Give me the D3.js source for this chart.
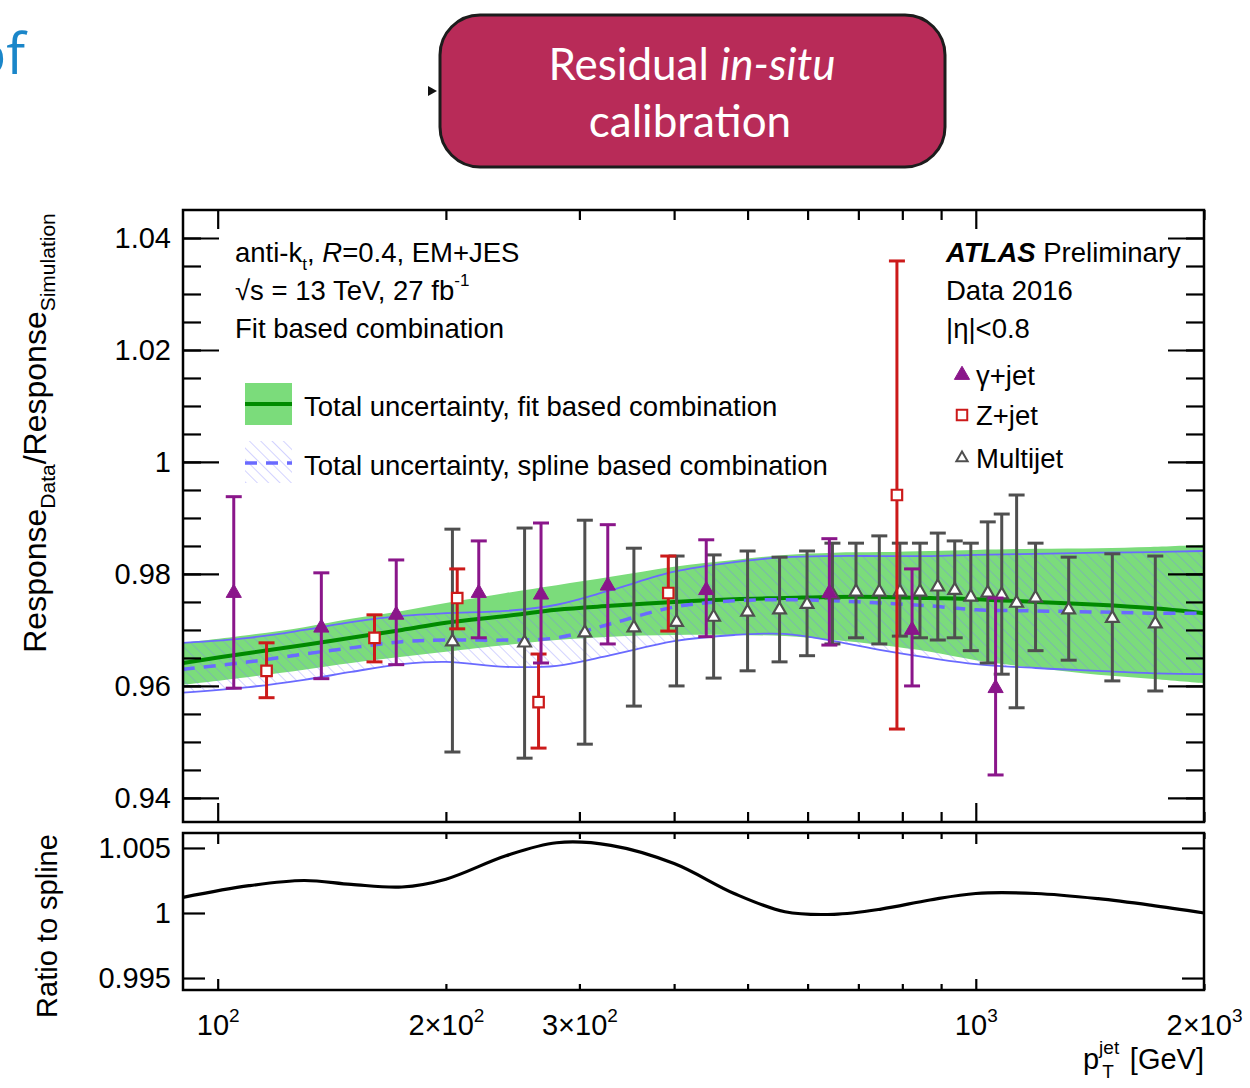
<!DOCTYPE html>
<html>
<head>
    <meta charset="utf-8">
    <title>Residual in-situ calibration</title>
    <script src="https://d3js.org/d3.v7.min.js"></script>
    <style>
        body { margin: 0; background: #fff; }
    </style>
</head>
<body>
<script>
    // smooth curves, sampled at these pT values (GeV)
    const curvePt = [90, 110, 130, 150, 175, 200, 240, 280, 330, 400, 480, 560, 650, 750, 870, 1000, 1200, 1450, 1700, 2000];
    const fitCentral = [0.9641, 0.9659, 0.9673, 0.9686, 0.9700, 0.9713, 0.9725, 0.9736, 0.9743, 0.9750, 0.9755, 0.9757, 0.9759, 0.9759, 0.9757, 0.9755, 0.9750, 0.9745, 0.9739, 0.9730];
    const fitUp = [0.9677, 0.9691, 0.9705, 0.9720, 0.9734, 0.9748, 0.9766, 0.9780, 0.9795, 0.9813, 0.9825, 0.9834, 0.9838, 0.9839, 0.9841, 0.9843, 0.9845, 0.9846, 0.9848, 0.9852];
    const fitDown = [0.9602, 0.9616, 0.9629, 0.9641, 0.9652, 0.9661, 0.9673, 0.9682, 0.9688, 0.9691, 0.9691, 0.9689, 0.9682, 0.9673, 0.9661, 0.9646, 0.9632, 0.9620, 0.9613, 0.9605];
    const splineCentral = [0.9630, 0.9643, 0.9657, 0.9668, 0.9679, 0.9682, 0.9682, 0.9686, 0.9711, 0.9741, 0.9752, 0.9754, 0.9752, 0.9748, 0.9743, 0.9736, 0.9734, 0.9732, 0.9730, 0.9730];
    const splineUp = [0.9677, 0.9686, 0.9700, 0.9714, 0.9725, 0.9730, 0.9734, 0.9745, 0.9771, 0.9804, 0.9821, 0.9830, 0.9832, 0.9832, 0.9832, 0.9834, 0.9836, 0.9838, 0.9839, 0.9841];
    const splineDown = [0.9588, 0.9598, 0.9611, 0.9625, 0.9639, 0.9643, 0.9634, 0.9636, 0.9655, 0.9680, 0.9691, 0.9693, 0.9680, 0.9664, 0.9650, 0.9639, 0.9632, 0.9627, 0.9623, 0.9621];
    const ratioToSpline = [1.0012, 1.0021, 1.0025, 1.0022, 1.0020, 1.0026, 1.0044, 1.0054, 1.0052, 1.0038, 1.0015, 1.0001, 0.9999, 1.0003, 1.0010, 1.0015, 1.0015, 1.0011, 1.0006, 1.0000];

    // gamma+jet
    const gammaPt = [105, 137, 172, 221, 267, 327, 441, 641, 824, 1062];
    const gammaResp = [0.9766, 0.9704, 0.9727, 0.9766, 0.9763, 0.9779, 0.9771, 0.9766, 0.9700, 0.9596];
    const gammaHi = [0.9938, 0.9802, 0.9825, 0.9859, 0.9891, 0.9888, 0.9861, 0.9863, 0.9809, 0.9757];
    const gammaLo = [0.9596, 0.9613, 0.9638, 0.9686, 0.9641, 0.9675, 0.9688, 0.9673, 0.9600, 0.9441];

    // Z+jet
    const zPt = [116, 161, 207, 265, 393, 787];
    const zResp = [0.9627, 0.9686, 0.9757, 0.9571, 0.9766, 0.9941];
    const zHi = [0.9677, 0.9727, 0.9809, 0.9657, 0.9832, 1.0359];
    const zLo = [0.9579, 0.9643, 0.9702, 0.9489, 0.9698, 0.9523];

    // multijet
    const mjPt = [204, 254, 305, 354, 403, 451, 500, 551, 599, 647, 695, 746, 794, 844, 891, 938, 985, 1037, 1082, 1132, 1199, 1326, 1514, 1725];
    const mjResp = [0.9679, 0.9677, 0.9695, 0.9704, 0.9714, 0.9723, 0.9732, 0.9736, 0.9746, 0.9763, 0.9768, 0.9768, 0.9768, 0.9768, 0.9777, 0.9771, 0.9759, 0.9766, 0.9763, 0.9748, 0.9757, 0.9736, 0.9721, 0.9711];
    const mjHi = [0.9880, 0.9882, 0.9896, 0.9846, 0.9832, 0.9834, 0.9841, 0.9830, 0.9841, 0.9855, 0.9855, 0.9868, 0.9855, 0.9855, 0.9873, 0.9859, 0.9855, 0.9893, 0.9907, 0.9941, 0.9855, 0.9830, 0.9836, 0.9832];
    const mjLo = [0.9482, 0.9471, 0.9496, 0.9564, 0.9600, 0.9614, 0.9627, 0.9643, 0.9654, 0.9675, 0.9686, 0.9675, 0.9689, 0.9686, 0.9682, 0.9686, 0.9663, 0.9641, 0.9621, 0.9561, 0.9663, 0.9646, 0.9609, 0.9591];

    // ticks
    const yMajor = [0.94, 0.96, 0.98, 1, 1.02, 1.04];
    const yMajorLabels = ['0.94', '0.96', '0.98', '1', '1.02', '1.04'];
    const yMinor = d3.range(0.94, 1.045, 0.005);
    const rMajor = [0.995, 1, 1.005];
    const rMajorLabels = ['0.995', '1', '1.005'];
    const xMajor = [100, 1000];
    const xMinor = [200, 300, 400, 500, 600, 700, 800, 900, 2000];
    const xLabelVals = [100, 200, 300, 1000, 2000];
    const xLabelMant = ['10', '2\u00d710', '3\u00d710', '10', '2\u00d710'];
    const xLabelExp = ['2', '2', '2', '3', '3'];

    const msm = {
        width: 1250,
        height: 1088,
        left: 183,
        right: 1204,
        top: 210,
        bottom: 822,
        rTop: 833,
        rBottom: 990
    }

    const col = {
        green: '#7bdc7b',
        darkGreen: '#008a00',
        blue: '#6a6aff',
        purple: '#8a168a',
        red: '#cc1a1a',
        gray: '#4f4f4f'
    }

    let svg = d3.select('body')
        .append('svg')
        .attr('width', msm.width)
        .attr('height', msm.height)
        .attr('font-family', '"Liberation Sans", Arial, sans-serif')

    let defs = svg.append('defs');
    defs.append('pattern')
        .attr('id', 'hatch')
        .attr('patternUnits', 'userSpaceOnUse')
        .attr('width', 8)
        .attr('height', 8)
        .attr('patternTransform', 'rotate(-45)')
        .append('line')
        .attr('x1', 0).attr('y1', 0).attr('x2', 0).attr('y2', 8)
        .attr('stroke', '#7878ff')
        .attr('stroke-width', 1.1)
        .attr('stroke-opacity', 0.6);
    defs.append('clipPath').attr('id', 'clipMain')
        .append('rect')
        .attr('x', msm.left).attr('y', msm.top)
        .attr('width', msm.right - msm.left).attr('height', msm.bottom - msm.top);

    // text with sub / superscripts
    function rich(t, parts, small) {
        let off = 0;
        parts.forEach(p => {
            const target = p.sub ? small * 0.45 : (p.sup ? -small * 0.8 : 0);
            const s = t.append('tspan').attr('dy', target - off).text(p.t);
            off = target;
            if (p.sub || p.sup) s.attr('font-size', small);
            if (p.i) s.attr('font-style', 'italic');
            if (p.b) s.attr('font-weight', 'bold');
            if (p.dx) s.attr('dx', p.dx);
        });
        return t;
    }

    // slide decoration
    svg.append('text')
        .attr('x', 25).attr('y', 74)
        .attr('text-anchor', 'end')
        .attr('font-family', '"Open Sans", sans-serif')
        .attr('font-size', 56)
        .attr('fill', '#1a86c9')
        .text('of');

    svg.append('path')
        .attr('d', 'M428,86 L437,91 L428,96 Z')
        .attr('fill', '#111');

    svg.append('rect')
        .attr('x', 440).attr('y', 15)
        .attr('width', 505).attr('height', 152)
        .attr('rx', 40)
        .attr('fill', '#b82b58')
        .attr('stroke', '#1c1c1c')
        .attr('stroke-width', 3);

    let title1 = svg.append('text')
        .attr('x', 692).attr('y', 80)
        .attr('text-anchor', 'middle')
        .attr('font-family', 'Lato, sans-serif')
        .attr('font-size', 44)
        .attr('fill', '#fff');
    title1.append('tspan').text('Residual ');
    title1.append('tspan').attr('font-style', 'italic').text('in-situ');

    svg.append('text')
        .attr('x', 690).attr('y', 137)
        .attr('text-anchor', 'middle')
        .attr('font-family', 'Lato, sans-serif')
        .attr('font-size', 44)
        .attr('fill', '#fff')
        .text('calibration');

    // scales
    let x = d3.scaleLog().domain([90, 2000]).range([msm.left, msm.right]);
    let y = d3.scaleLinear().domain([0.9357, 1.045]).range([msm.bottom, msm.top]);
    let yr = d3.scaleLinear().domain([0.99408, 1.00615]).range([msm.rBottom, msm.rTop]);

    let curveData = curvePt.map((p, i) => ({
        p: p,
        fc: fitCentral[i], fu: fitUp[i], fd: fitDown[i],
        sc: splineCentral[i], su: splineUp[i], sd: splineDown[i],
        r: ratioToSpline[i]
    }));

    const smooth = d3.curveCatmullRom.alpha(0.5);

    let plot = svg.append('g').attr('clip-path', 'url(#clipMain)');

    // fit band
    plot.append('path')
        .attr('d', d3.area().x(d => x(d.p)).y0(d => y(d.fd)).y1(d => y(d.fu))
            .curve(smooth)(curveData))
        .attr('fill', col.green);

    // spline band (hatched)
    plot.append('path')
        .attr('d', d3.area().x(d => x(d.p)).y0(d => y(d.sd)).y1(d => y(d.su))
            .curve(smooth)(curveData))
        .attr('fill', 'url(#hatch)');

    let lineOf = key => d3.line().x(d => x(d.p)).y(d => y(d[key])).curve(smooth)(curveData);

    ['su', 'sd'].forEach(k => {
        plot.append('path')
            .attr('d', lineOf(k))
            .attr('fill', 'none')
            .attr('stroke', col.blue)
            .attr('stroke-width', 1.8);
    });

    plot.append('path')
        .attr('d', lineOf('fc'))
        .attr('fill', 'none')
        .attr('stroke', col.darkGreen)
        .attr('stroke-width', 4);

    plot.append('path')
        .attr('d', lineOf('sc'))
        .attr('fill', 'none')
        .attr('stroke', col.blue)
        .attr('stroke-width', 3.5)
        .attr('stroke-dasharray', '12,9');

    // data points with error bars
    function drawSeries(pts, vals, his, los, color, symbol, size, fill) {
        let data = pts.map((p, i) => ({ p: p, v: vals[i], hi: his[i], lo: los[i] }));
        let g = svg.append('g');
        let pt = g.selectAll('g').data(data).enter().append('g');
        pt.append('line')
            .attr('x1', d => x(d.p)).attr('x2', d => x(d.p))
            .attr('y1', d => y(d.hi)).attr('y2', d => y(d.lo))
            .attr('stroke', color).attr('stroke-width', 3);
        ['hi', 'lo'].forEach(k => {
            pt.append('line')
                .attr('x1', d => x(d.p) - 8).attr('x2', d => x(d.p) + 8)
                .attr('y1', d => y(d[k])).attr('y2', d => y(d[k]))
                .attr('stroke', color).attr('stroke-width', 3);
        });
        pt.append('path')
            .attr('transform', d => `translate(${x(d.p)},${y(d.v)})`)
            .attr('d', d3.symbol(symbol, size)())
            .attr('fill', fill)
            .attr('stroke', color)
            .attr('stroke-width', fill === color ? 1 : 2.2);
    }

    drawSeries(mjPt, mjResp, mjHi, mjLo, col.gray, d3.symbolTriangle, 70, '#fff');
    drawSeries(zPt, zResp, zHi, zLo, col.red, d3.symbolSquare, 110, '#fff');
    drawSeries(gammaPt, gammaResp, gammaHi, gammaLo, col.purple, d3.symbolTriangle, 100, col.purple);

    // ratio panel curve
    svg.append('path')
        .attr('d', d3.line().x(d => x(d.p)).y(d => yr(d.r)).curve(smooth)(curveData))
        .attr('fill', 'none')
        .attr('stroke', '#000')
        .attr('stroke-width', 3.2);

    // axes
    function axisG(tx, ty, axis) {
        let g = svg.append('g')
            .attr('transform', `translate(${tx},${ty})`)
            .call(axis);
        g.select('.domain').remove();
        g.selectAll('line').attr('stroke', '#000').attr('stroke-width', 2.2);
        g.attr('font-family', '"Liberation Sans", Arial, sans-serif')
            .attr('font-size', 29);
        g.selectAll('text').attr('fill', '#000');
        return g;
    }

    // main panel y
    axisG(msm.left, 0, d3.axisLeft(y).tickValues(yMajor).tickSizeInner(-36).tickSizeOuter(0).tickPadding(12)
        .tickFormat((d, i) => yMajorLabels[i]));
    axisG(msm.left, 0, d3.axisLeft(y).tickValues(yMinor).tickSizeInner(-18).tickSizeOuter(0).tickFormat(''));
    axisG(msm.right, 0, d3.axisRight(y).tickValues(yMajor).tickSizeInner(-36).tickSizeOuter(0).tickFormat(''));
    axisG(msm.right, 0, d3.axisRight(y).tickValues(yMinor).tickSizeInner(-18).tickSizeOuter(0).tickFormat(''));
    // main panel x
    axisG(0, msm.top, d3.axisTop(x).tickValues(xMajor).tickSizeInner(-19).tickSizeOuter(0).tickFormat(''));
    axisG(0, msm.top, d3.axisTop(x).tickValues(xMinor).tickSizeInner(-10).tickSizeOuter(0).tickFormat(''));
    axisG(0, msm.bottom, d3.axisBottom(x).tickValues(xMajor).tickSizeInner(-19).tickSizeOuter(0).tickFormat(''));
    axisG(0, msm.bottom, d3.axisBottom(x).tickValues(xMinor).tickSizeInner(-10).tickSizeOuter(0).tickFormat(''));

    // ratio panel y
    axisG(msm.left, 0, d3.axisLeft(yr).tickValues(rMajor).tickSizeInner(-22).tickSizeOuter(0).tickPadding(12)
        .tickFormat((d, i) => rMajorLabels[i]));
    axisG(msm.right, 0, d3.axisRight(yr).tickValues([0.995, 1.005]).tickSizeInner(-22).tickSizeOuter(0).tickFormat(''));
    // ratio panel x
    axisG(0, msm.rTop, d3.axisTop(x).tickValues(xMajor).tickSizeInner(-11).tickSizeOuter(0).tickFormat(''));
    axisG(0, msm.rTop, d3.axisTop(x).tickValues(xMinor).tickSizeInner(-6).tickSizeOuter(0).tickFormat(''));
    axisG(0, msm.rBottom, d3.axisBottom(x).tickValues(xMajor).tickSizeInner(-11).tickSizeOuter(0).tickFormat(''));
    axisG(0, msm.rBottom, d3.axisBottom(x).tickValues(xMinor).tickSizeInner(-6).tickSizeOuter(0).tickFormat(''));

    let xl = axisG(0, msm.rBottom, d3.axisBottom(x).tickValues(xLabelVals).tickSize(0).tickPadding(24).tickFormat(''));
    xl.selectAll('text').each(function (d, i) {
        let t = d3.select(this);
        t.append('tspan').text(xLabelMant[i]);
        t.append('tspan').attr('font-size', 19).attr('dy', -13).text(xLabelExp[i]);
    });

    // frames
    [[msm.top, msm.bottom], [msm.rTop, msm.rBottom]].forEach(f => {
        svg.append('rect')
            .attr('x', msm.left).attr('y', f[0])
            .attr('width', msm.right - msm.left).attr('height', f[1] - f[0])
            .attr('fill', 'none')
            .attr('stroke', '#000')
            .attr('stroke-width', 2.5);
    });

    // axis titles
    rich(svg.append('text')
        .attr('transform', 'translate(46,433) rotate(-90)')
        .attr('text-anchor', 'middle')
        .attr('font-size', 32), [
        { t: 'Response' }, { t: 'Data', sub: true }, { t: '/Response' }, { t: 'Simulation', sub: true }
    ], 21);

    svg.append('text')
        .attr('transform', 'translate(57,926) rotate(-90)')
        .attr('text-anchor', 'middle')
        .attr('font-size', 29)
        .text('Ratio to spline');

    rich(svg.append('text')
        .attr('x', msm.right).attr('y', 1069)
        .attr('text-anchor', 'end')
        .attr('font-size', 29), [
        { t: 'p' }, { t: 'jet', sup: true }, { t: 'T', sub: true, dx: -17 }, { t: ' [GeV]', dx: 8 }
    ], 19);

    // labels inside the main panel
    const fs = 27.5;
    rich(svg.append('text').attr('x', 235).attr('y', 262).attr('font-size', fs), [
        { t: 'anti-k' }, { t: 't', sub: true }, { t: ', ' }, { t: 'R', i: true }, { t: '=0.4, EM+JES' }
    ], 17);
    rich(svg.append('text').attr('x', 235).attr('y', 300).attr('font-size', fs), [
        { t: '\u221as = 13 TeV, 27 fb' }, { t: '-1', sup: true }
    ], 17);
    svg.append('text').attr('x', 235).attr('y', 338).attr('font-size', fs).text('Fit based combination');

    rich(svg.append('text').attr('x', 946).attr('y', 262).attr('font-size', fs), [
        { t: 'ATLAS', b: true, i: true }, { t: ' Preliminary' }
    ], 17);
    svg.append('text').attr('x', 946).attr('y', 300).attr('font-size', fs).text('Data 2016');
    svg.append('text').attr('x', 946).attr('y', 338).attr('font-size', fs).text('|\u03b7|<0.8');

    // left legend
    svg.append('rect').attr('x', 245).attr('y', 383).attr('width', 47).attr('height', 42).attr('fill', col.green);
    svg.append('line').attr('x1', 245).attr('x2', 292).attr('y1', 404).attr('y2', 404)
        .attr('stroke', col.darkGreen).attr('stroke-width', 4);
    svg.append('text').attr('x', 304).attr('y', 416).attr('font-size', fs).text('Total uncertainty, fit based combination');

    svg.append('rect').attr('x', 245).attr('y', 441).attr('width', 47).attr('height', 42).attr('fill', 'url(#hatch)');
    svg.append('line').attr('x1', 245).attr('x2', 292).attr('y1', 463).attr('y2', 463)
        .attr('stroke', col.blue).attr('stroke-width', 3.5).attr('stroke-dasharray', '12,9');
    svg.append('text').attr('x', 304).attr('y', 475).attr('font-size', fs).text('Total uncertainty, spline based combination');

    // right legend
    const legItems = [
        { label: '\u03b3+jet', color: col.purple, sym: d3.symbolTriangle, size: 100, fill: col.purple, y: 375 },
        { label: 'Z+jet', color: col.red, sym: d3.symbolSquare, size: 110, fill: '#fff', y: 415 },
        { label: 'Multijet', color: col.gray, sym: d3.symbolTriangle, size: 55, fill: '#fff', y: 458 }
    ];
    legItems.forEach(l => {
        svg.append('path')
            .attr('transform', `translate(962,${l.y})`)
            .attr('d', d3.symbol(l.sym, l.size)())
            .attr('fill', l.fill)
            .attr('stroke', l.color)
            .attr('stroke-width', l.fill === l.color ? 1 : 2);
        svg.append('text').attr('x', 976).attr('y', l.y + 10).attr('font-size', fs).text(l.label);
    });
</script>
</body>
</html>
